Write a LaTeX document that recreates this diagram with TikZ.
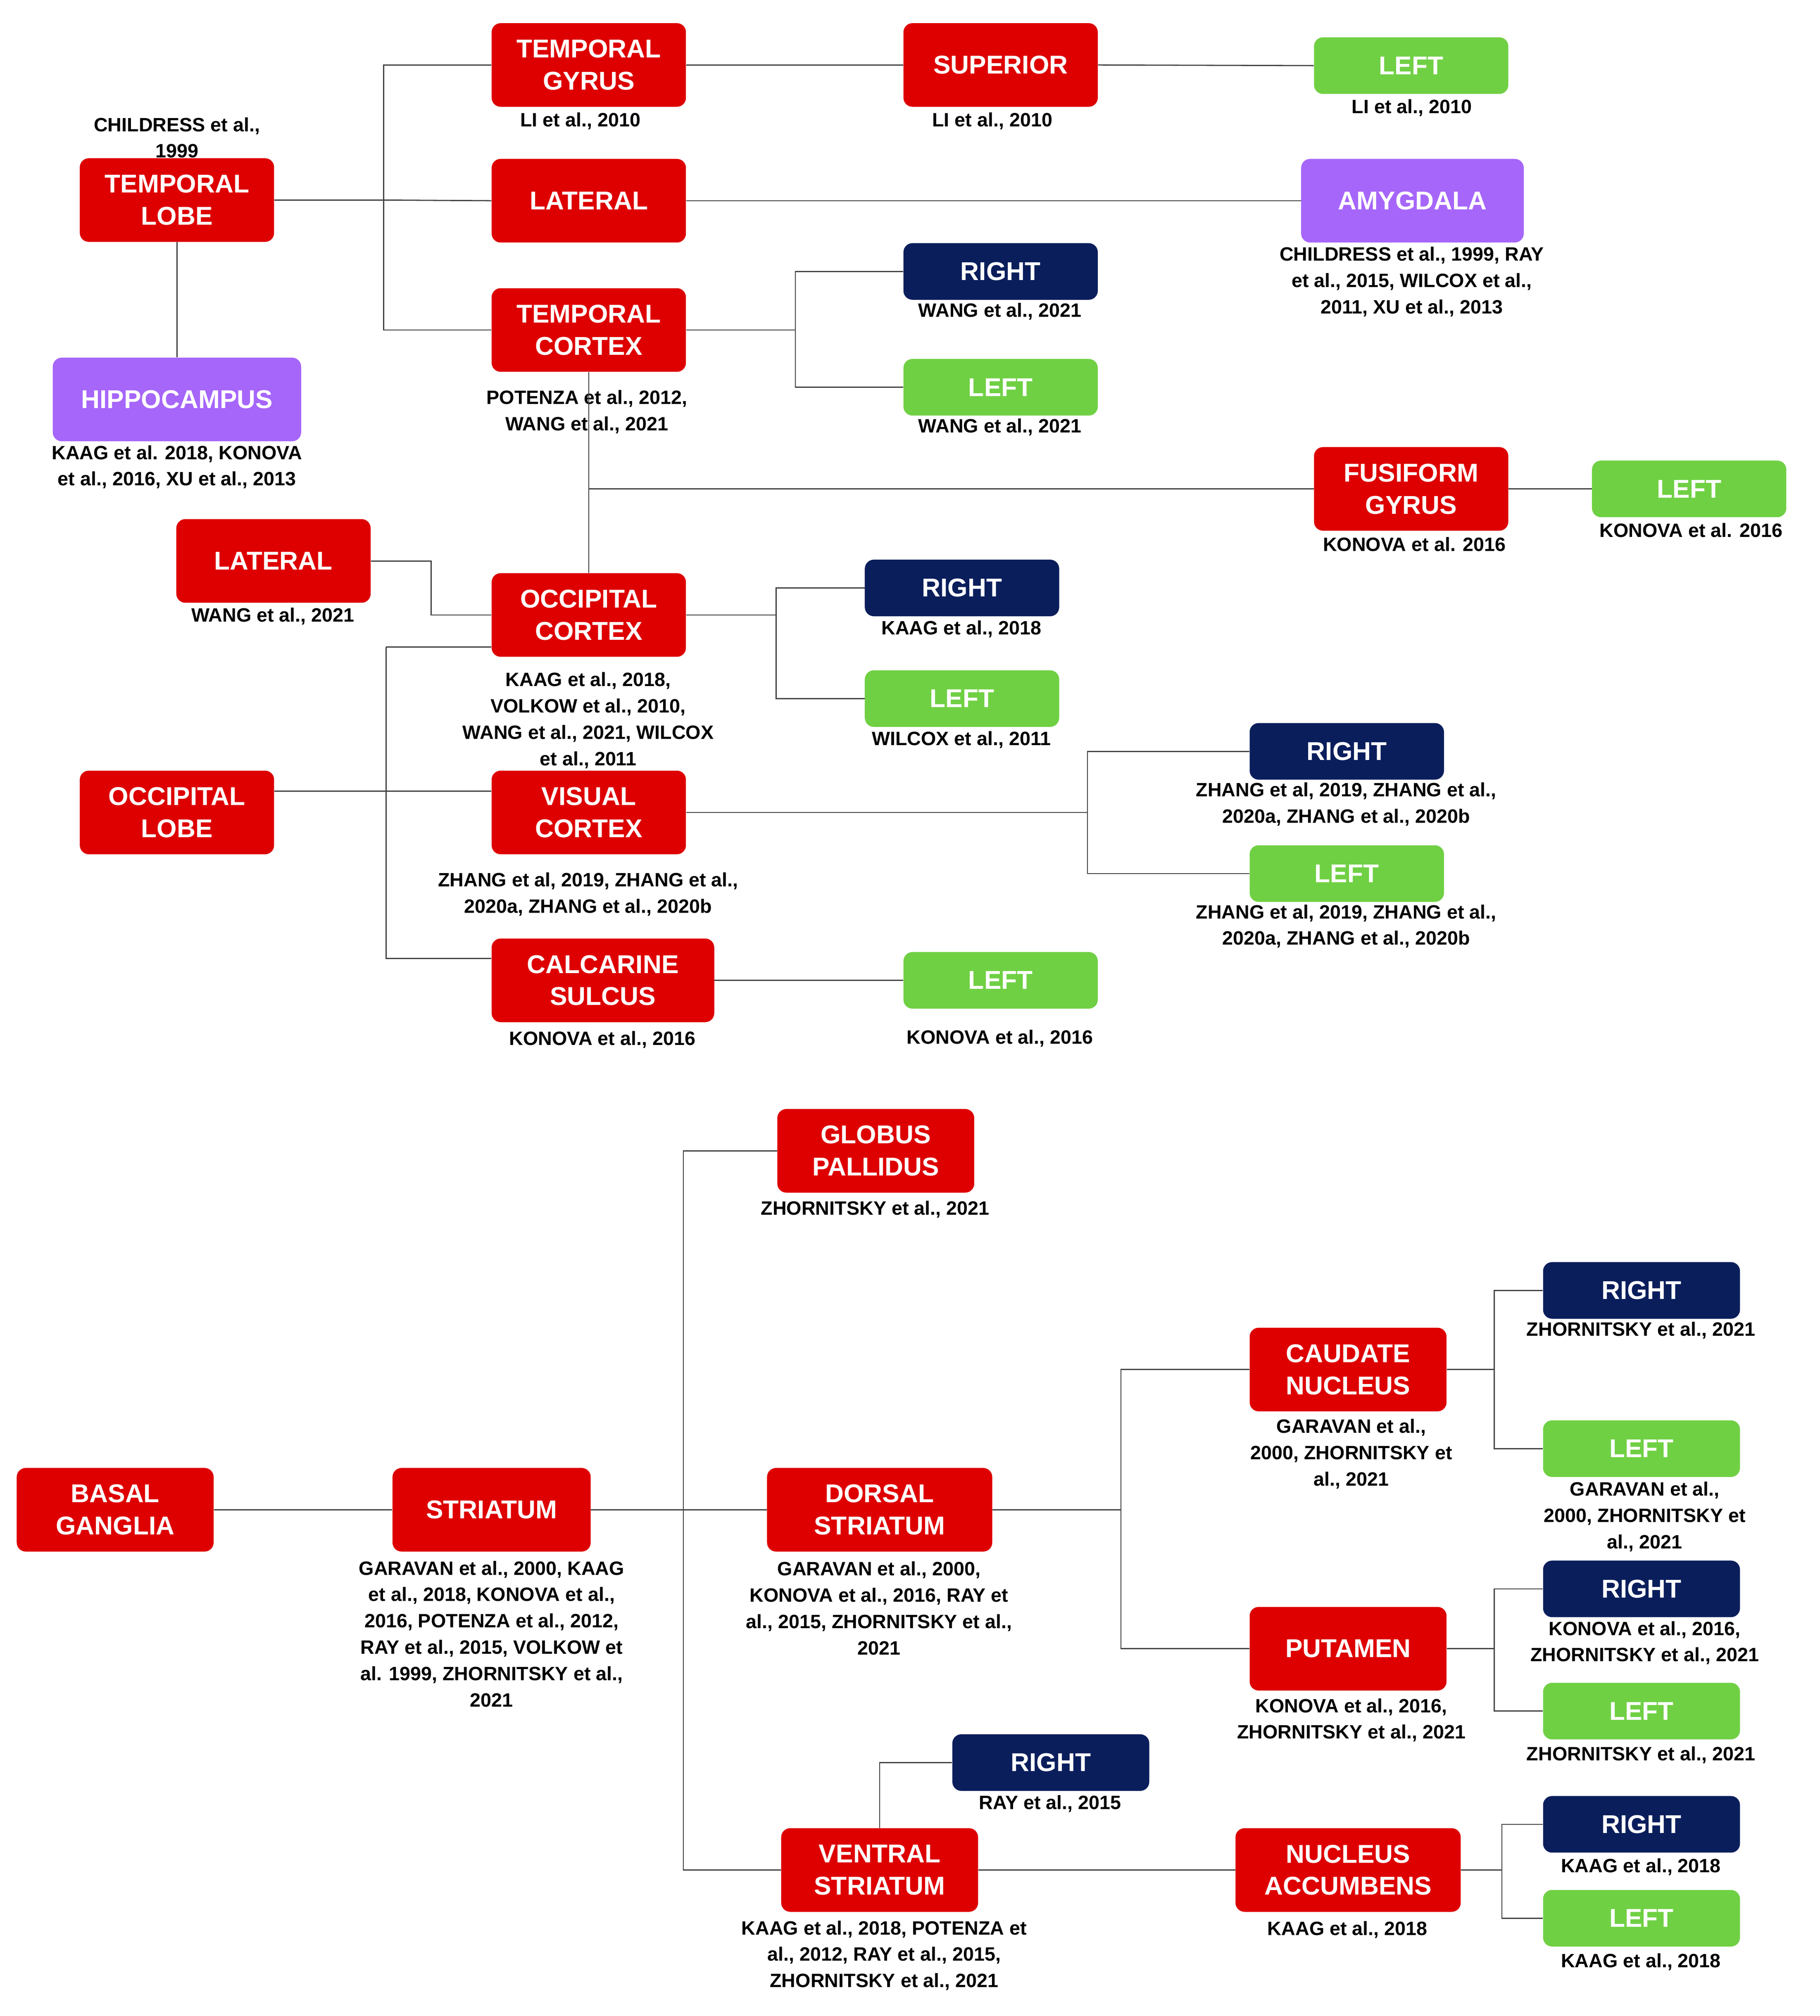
\documentclass[tikz,border=0pt]{standalone}
\usepackage{fontspec}
\setmainfont{Liberation Sans}
\begin{document}
\begin{tikzpicture}[x=1pt,y=-1pt,
 box/.style={rounded corners=7pt,draw=none,text=white,align=center,inner sep=0pt,font=\fontsize{20}{25}\selectfont\bfseries},
 R/.style={box,fill=cred,minimum width=151pt,minimum height=65pt},
 P/.style={box,fill=cpur,minimum height=65pt},
 B/.style={box,fill=cnav,minimum width=151pt,minimum height=44pt},
 G/.style={box,fill=cgrn,minimum width=151pt,minimum height=44pt},
 ct/.style={align=center,inner sep=0pt,font=\fontsize{15}{20.5}\selectfont\bfseries},
 ln/.style={draw=black!75,line width=0.9pt}]
\definecolor{cred}{RGB}{222,0,0}
\definecolor{cpur}{RGB}{166,102,250}
\definecolor{cnav}{RGB}{10,30,92}
\definecolor{cgrn}{RGB}{112,208,68}
\useasboundingbox (0,0) rectangle (1414,1567);
% top section
\node[R] (TL) at (137.5,155.5) {TEMPORAL\\LOBE};
\node[ct] (cTL) at (137.5,107) {CHILDRESS et al.,\\1999};
\node[P,minimum width=193pt] (HI) at (137.5,310.5) {HIPPOCAMPUS};
\node[ct] (cHI) at (137.5,363) {KAAG et al. 2018, KONOVA\\et al., 2016, XU et al., 2013};
\node[R] (TG) at (457.5,50.5) {TEMPORAL\\GYRUS};
\node[ct] (cTG) at (451,94) {LI et al., 2010};
\node[R] (LA1) at (457.5,156) {LATERAL};
\node[R] (TC) at (457.5,256.5) {TEMPORAL\\CORTEX};
\node[ct] (cTC) at (456,320) {POTENZA et al., 2012,\\WANG et al., 2021};
\node[R] (SU) at (777.5,50.5) {SUPERIOR};
\node[ct] (cSU) at (771,94) {LI et al., 2010};
\node[G] (L1) at (1096.5,51) {LEFT};
\node[ct] (cL1) at (1097,84) {LI et al., 2010};
\node[P,minimum width=173pt] (AM) at (1097.5,156) {AMYGDALA};
\node[ct] (cAM) at (1097,219) {CHILDRESS et al., 1999, RAY\\et al., 2015, WILCOX et al.,\\2011, XU et al., 2013};
\node[B] (R1) at (777.5,211) {RIGHT};
\node[ct] (cR1) at (777,242) {WANG et al., 2021};
\node[G] (L2) at (777.5,301) {LEFT};
\node[ct] (cL2) at (777,332) {WANG et al., 2021};
\node[R] (FG) at (1096.5,380) {FUSIFORM\\GYRUS};
\node[ct] (cFG) at (1099,423) {KONOVA et al. 2016};
\node[G] (L3) at (1312.5,380) {LEFT};
\node[ct] (cL3) at (1314,412) {KONOVA et al. 2016};
\node[R] (LA2) at (212.5,436) {LATERAL};
\node[ct] (cLA2) at (212,479) {WANG et al., 2021};
\node[R] (OC) at (457.5,478) {OCCIPITAL\\CORTEX};
\node[ct] (cOC) at (457,560) {KAAG et al., 2018,\\VOLKOW et al., 2010,\\WANG et al., 2021, WILCOX\\et al., 2011};
\node[B] (R2) at (747.5,457) {RIGHT};
\node[ct] (cR2) at (747,489) {KAAG et al., 2018};
\node[G] (L4) at (747.5,543) {LEFT};
\node[ct] (cL4) at (747,575) {WILCOX et al., 2011};
\node[R] (OL) at (137.5,631.5) {OCCIPITAL\\LOBE};
\node[R] (VC) at (457.5,631.5) {VISUAL\\CORTEX};
\node[ct] (cVC) at (457,695) {ZHANG et al, 2019, ZHANG et al.,\\2020a, ZHANG et al., 2020b};
\node[B] (R3) at (1046.5,584) {RIGHT};
\node[ct] (cR3) at (1046,625) {ZHANG et al, 2019, ZHANG et al.,\\2020a, ZHANG et al., 2020b};
\node[G] (L5) at (1046.5,679) {LEFT};
\node[ct] (cL5) at (1046,720) {ZHANG et al, 2019, ZHANG et al.,\\2020a, ZHANG et al., 2020b};
\node[R,minimum width=173pt] (CS) at (468.5,762) {CALCARINE\\SULCUS};
\node[ct] (cCS) at (468,808) {KONOVA et al., 2016};
\node[G] (L6) at (777.5,762) {LEFT};
\node[ct] (cL6) at (777,807) {KONOVA et al., 2016};
% bottom section
\node[R,minimum width=153pt] (BG) at (89.5,1173.5) {BASAL\\GANGLIA};
\node[R,minimum width=154pt] (ST) at (382,1173.5) {STRIATUM};
\node[ct] (cST) at (382,1270) {GARAVAN et al., 2000, KAAG\\et al., 2018, KONOVA et al.,\\2016, POTENZA et al., 2012,\\RAY et al., 2015, VOLKOW et\\al. 1999, ZHORNITSKY et al.,\\2021};
\node[R,minimum width=153pt] (GP) at (680.5,894.5) {GLOBUS\\PALLIDUS};
\node[ct] (cGP) at (680,940) {ZHORNITSKY et al., 2021};
\node[R,minimum width=175pt] (DS) at (683.5,1173.5) {DORSAL\\STRIATUM};
\node[ct] (cDS) at (683,1250) {GARAVAN et al., 2000,\\KONOVA et al., 2016, RAY et\\al., 2015, ZHORNITSKY et al.,\\2021};
\node[R,minimum width=153pt] (CN) at (1047.5,1064.5) {CAUDATE\\NUCLEUS};
\node[ct] (cCN) at (1050,1130) {GARAVAN et al.,\\2000, ZHORNITSKY et\\al., 2021};
\node[B,minimum width=153pt] (R4) at (1275.5,1003) {RIGHT};
\node[ct] (cR4) at (1275,1034) {ZHORNITSKY et al., 2021};
\node[G,minimum width=153pt] (L7) at (1275.5,1126) {LEFT};
\node[ct] (cL7) at (1278,1179) {GARAVAN et al.,\\2000, ZHORNITSKY et\\al., 2021};
\node[R,minimum width=153pt] (PU) at (1047.5,1281.5) {PUTAMEN};
\node[ct] (cPU) at (1050,1337) {KONOVA et al., 2016,\\ZHORNITSKY et al., 2021};
\node[B,minimum width=153pt] (R5) at (1275.5,1235) {RIGHT};
\node[ct] (cR5) at (1278,1277) {KONOVA et al., 2016,\\ZHORNITSKY et al., 2021};
\node[G,minimum width=153pt] (L8) at (1275.5,1330) {LEFT};
\node[ct] (cL8) at (1275,1364) {ZHORNITSKY et al., 2021};
\node[B,minimum width=153pt] (R6) at (816.5,1370) {RIGHT};
\node[ct] (cR6) at (816,1402) {RAY et al., 2015};
\node[R,minimum width=153pt] (VS) at (683.5,1453.5) {VENTRAL\\STRIATUM};
\node[ct] (cVS) at (687,1520) {KAAG et al., 2018, POTENZA et\\al., 2012, RAY et al., 2015,\\ZHORNITSKY et al., 2021};
\node[R,minimum width=175pt] (NA) at (1047.5,1453.5) {NUCLEUS\\ACCUMBENS};
\node[ct] (cNA) at (1047,1500) {KAAG et al., 2018};
\node[B,minimum width=153pt] (R7) at (1275.5,1418) {RIGHT};
\node[ct] (cR7) at (1275,1451) {KAAG et al., 2018};
\node[G,minimum width=153pt] (L9) at (1275.5,1491) {LEFT};
\node[ct] (cL9) at (1275,1525) {KAAG et al., 2018};
% connectors top
\draw[ln] (TL.east) -- (298,155.5) coordinate (j1);
\draw[ln] (TG.west) -| (j1) |- (TC.west);
\draw[ln] (j1) -- (LA1.west);
\draw[ln] (TL.south) -- (HI.north);
\draw[ln] (TG.east) -- (SU.west);
\draw[ln] (SU.east) -- (L1.west);
\draw[ln] (LA1.east) -- (AM.west);
\draw[ln] (TC.east) -- (618,256.5) coordinate (j2);
\draw[ln] (R1.west) -| (j2) |- (L2.west);
\draw[ln] (TC.south) -- (OC.north);
\draw[ln] (457.5,380) coordinate (j3) -- (FG.west);
\draw[ln] (FG.east) -- (L3.west);
\draw[ln] (LA2.east) -| (335,478) coordinate (j4) -- (OC.west);
\draw[ln] (OC.east) -- (603,478) coordinate (j5);
\draw[ln] (R2.west) -| (j5) |- (L4.west);
\draw[ln] (OC.west |- 0,503) -- (300,503) coordinate (j6);
\draw[ln] (j6) |- (CS.west |- 0,745);
\draw[ln] (OL.east |- 0,615) -- (VC.west |- 0,615);
\draw[ln] (VC.east) -- (845,631.5) coordinate (j7);
\draw[ln] (R3.west) -| (j7) |- (L5.west);
\draw[ln] (CS.east) -- (L6.west);
% connectors bottom
\draw[ln] (BG.east) -- (ST.west);
\draw[ln] (ST.east) -- (531,1173.5) coordinate (j8);
\draw[ln] (GP.west) -| (j8) |- (VS.west);
\draw[ln] (j8) -- (DS.west);
\draw[ln] (DS.east) -- (871,1173.5) coordinate (j9);
\draw[ln] (CN.west) -| (j9) |- (PU.west);
\draw[ln] (CN.east) -- (1161,1064.5) coordinate (j10);
\draw[ln] (R4.west) -| (j10) |- (L7.west);
\draw[ln] (PU.east) -- (1161,1281.5) coordinate (j11);
\draw[ln] (R5.west) -| (j11) |- (L8.west);
\draw[ln] (VS.north) |- (R6.west);
\draw[ln] (VS.east) -- (NA.west);
\draw[ln] (NA.east) -- (1167,1453.5) coordinate (j12);
\draw[ln] (R7.west) -| (j12) |- (L9.west);
\end{tikzpicture}
\end{document}
